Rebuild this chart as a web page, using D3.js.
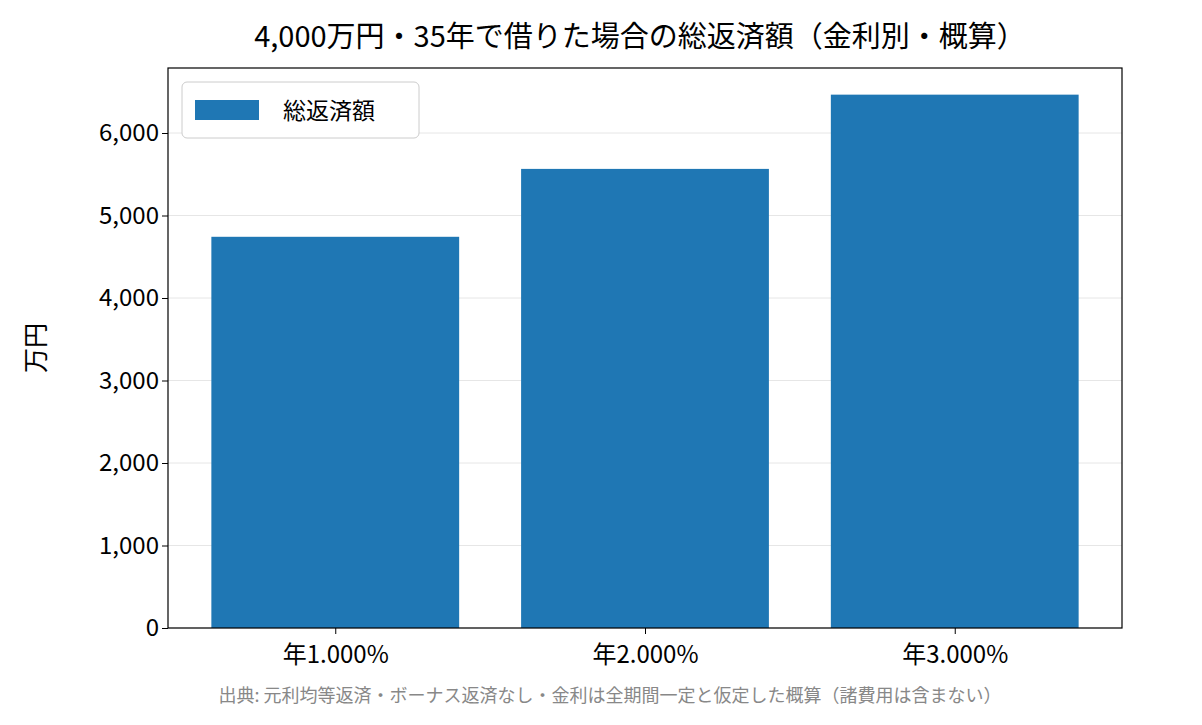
<!DOCTYPE html>
<html><head><meta charset="utf-8">
<script src="https://cdn.jsdelivr.net/npm/d3@7"></script>
<style>body{margin:0;background:#fff}text{font-family:"Noto Sans CJK JP","Noto Sans",sans-serif}</style>
</head><body><svg id="c" width="1202" height="725"></svg>
<script>
const categories=["年1.000%","年2.000%","年3.000%"];
const totals=[4742,5565,6465];
const yTicks=[0,1000,2000,3000,4000,5000,6000];
const svg=d3.select("#c");
const L=168,R=1122,T=68,B=628;
const x=d3.scaleLinear().domain([-0.54,2.54]).range([L,R]);
const y=d3.scaleLinear().domain([0,6788]).range([B,T]);
const g=svg.append("g");
g.selectAll("line.grid").data(yTicks).join("line").attr("x1",L).attr("x2",R)
 .attr("y1",d=>y(d)).attr("y2",d=>y(d)).attr("stroke","#e6e6e6").attr("stroke-width",1);
const bw=x(0.4)-x(-0.4);
g.selectAll("rect.bar").data(totals).join("rect").attr("x",(d,i)=>x(i)-bw/2).attr("width",bw)
 .attr("y",d=>y(d)).attr("height",d=>B-y(d)).attr("fill","#1f77b4");
const ya=svg.append("g").attr("transform",`translate(${L},0)`).call(d3.axisLeft(y).tickValues(yTicks).tickFormat(d3.format(",")).tickSizeOuter(0));
const xa=svg.append("g").attr("transform",`translate(0,${B})`).call(d3.axisBottom(x).tickValues([0,1,2]).tickFormat((d,i)=>categories[i]).tickSizeOuter(0));
[ya,xa].forEach(a=>{a.select(".domain").remove();a.selectAll("line").attr("stroke","#000");a.selectAll("text").attr("font-size",24).attr("fill","#000");});
xa.selectAll("text").attr("dy","1.1em");
svg.append("rect").attr("x",L).attr("y",T).attr("width",R-L).attr("height",B-T).attr("fill","none").attr("stroke","#000").attr("stroke-width",1.2);
svg.append("text").attr("x",640).attr("y",47).attr("text-anchor","middle").attr("font-size",29).text("4,000万円・35年で借りた場合の総返済額（金利別・概算）");
svg.append("text").attr("transform","translate(45,348) rotate(-90)").attr("text-anchor","middle").attr("font-size",25).text("万円");
svg.append("text").attr("x",610).attr("y",702).attr("text-anchor","middle").attr("font-size",18).attr("fill","#888").text("出典: 元利均等返済・ボーナス返済なし・金利は全期間一定と仮定した概算（諸費用は含まない）");
const lg=svg.append("g");
lg.append("rect").attr("x",182).attr("y",82).attr("width",237).attr("height",56).attr("rx",5).attr("fill","#fff").attr("stroke","#ccc");
lg.append("rect").attr("x",195).attr("y",100).attr("width",64).attr("height",20).attr("fill","#1f77b4");
lg.append("text").attr("x",283).attr("y",119).attr("font-size",23).text("総返済額");
</script></body></html>
